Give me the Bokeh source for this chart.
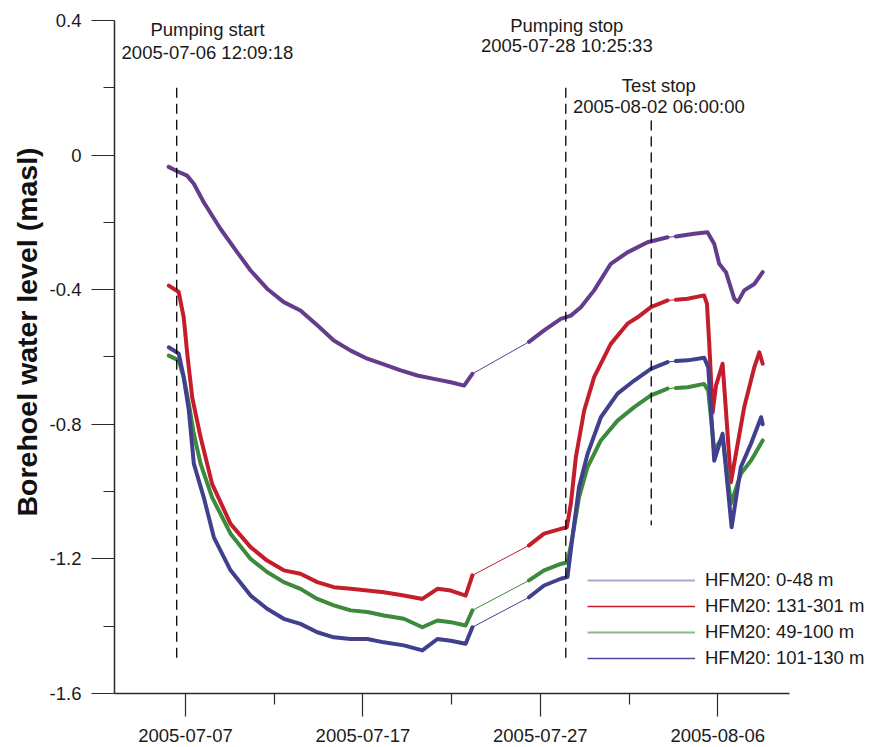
import numpy as np
import pandas as pd
from bokeh.plotting import figure
from bokeh.models import FixedTicker, Legend, LegendItem, Range1d, Label, Title
from bokeh.embed import file_html
from bokeh.resources import INLINE

# ---------------- data (time = day of July 2005, fractional; 32 = Aug 1) -------------
series_names = ["HFM20: 0-48 m", "HFM20: 131-301 m", "HFM20: 49-100 m", "HFM20: 101-130 m"]

t_purple = [6.05, 6.53, 7.09, 7.47, 8.03, 8.97, 9.92, 10.67, 11.6, 12.54, 13.48, 14.43, 15.36,
            16.31, 17.25, 18.18, 19.13, 20.07, 21.0, 21.95, 22.7, 23.17,
            26.36, 27.21, 28.15, 28.72, 29.28, 30.03, 30.97, 31.91, 33.04, 34.17,
            34.64, 35.67, 36.42, 36.8, 37.08, 37.46, 37.93, 38.12, 38.49, 39.06, 39.53]
v_purple = [-0.035, -0.048, -0.061, -0.085, -0.14, -0.219, -0.289, -0.343, -0.397, -0.437, -0.462,
            -0.506, -0.551, -0.581, -0.605, -0.622, -0.64, -0.655, -0.665, -0.675, -0.685, -0.65,
            -0.555, -0.521, -0.487, -0.477, -0.452, -0.402, -0.323, -0.289, -0.259, -0.244,
            -0.242, -0.234, -0.229, -0.264, -0.323, -0.348, -0.427, -0.437, -0.402, -0.383, -0.348]

t_red = [6.06, 6.62, 6.9, 7.1, 7.38, 7.85, 8.5, 9.54, 10.67, 11.6, 12.54, 13.48, 14.43, 15.36,
         16.31, 17.25, 18.18, 19.31, 20.35, 21.2, 21.95, 22.79, 23.17,
         26.36, 27.21, 28.15, 28.49, 28.72, 29.0, 29.47, 30.03, 30.97, 31.91, 32.48, 33.23, 34.17,
         34.64, 35.3, 36.23, 36.39, 36.52, 36.71, 36.9, 37.27, 37.46, 37.74, 38.12, 38.49, 39.06,
         39.34, 39.53]
v_red = [-0.388, -0.407, -0.482, -0.59, -0.72, -0.838, -0.977, -1.096, -1.165, -1.205, -1.234,
         -1.244, -1.269, -1.284, -1.289, -1.294, -1.299, -1.309, -1.319, -1.289, -1.294, -1.309,
         -1.249, -1.16, -1.125, -1.111, -1.106, -1.036, -0.898, -0.759, -0.66, -0.561, -0.501,
         -0.482, -0.452, -0.432, -0.43, -0.427, -0.417, -0.442, -0.561, -0.765, -0.685, -0.62,
         -0.759, -0.972, -0.858, -0.749, -0.63, -0.586, -0.62]

t_green = [6.06, 6.62, 6.9, 7.19, 7.47, 7.85, 8.5, 9.54, 10.67, 11.6, 12.54, 13.48, 14.43, 15.36,
           16.31, 17.25, 18.18, 19.31, 20.35, 21.2, 21.95, 22.79, 23.17,
           26.36, 27.21, 28.15, 28.53, 28.81, 29.18, 29.66, 30.41, 31.35, 32.29, 33.23, 34.17,
           34.64, 35.3, 36.23, 36.46, 36.8, 37.27, 37.74, 38.3, 38.87, 39.53]
v_green = [-0.596, -0.61, -0.66, -0.739, -0.828, -0.917, -1.017, -1.125, -1.2, -1.239, -1.269,
           -1.289, -1.319, -1.338, -1.353, -1.358, -1.368, -1.378, -1.403, -1.383, -1.388, -1.398,
           -1.353, -1.264, -1.234, -1.215, -1.21, -1.135, -1.017, -0.927, -0.848, -0.789, -0.749,
           -0.714, -0.694, -0.692, -0.69, -0.68, -0.7, -0.878, -0.838, -1.036, -0.947, -0.908,
           -0.848]

t_blue = [6.06, 6.62, 6.9, 7.19, 7.47, 8.03, 8.6, 9.54, 10.67, 11.6, 12.54, 13.48, 14.43, 15.36,
          16.31, 17.25, 18.18, 19.31, 20.35, 21.2, 21.95, 22.79, 23.17,
          26.36, 27.21, 28.15, 28.53, 28.81, 29.18, 29.66, 30.41, 31.35, 32.29, 33.23, 34.17,
          34.64, 35.3, 36.23, 36.46, 36.8, 37.27, 37.78, 38.3, 38.87, 39.44, 39.53]
v_blue = [-0.571, -0.59, -0.66, -0.759, -0.917, -1.017, -1.136, -1.234, -1.309, -1.348, -1.378,
          -1.393, -1.418, -1.433, -1.438, -1.438, -1.448, -1.457, -1.472, -1.438, -1.443, -1.452,
          -1.403, -1.314, -1.279, -1.259, -1.254, -1.135, -0.987, -0.888, -0.779, -0.709, -0.67,
          -0.635, -0.615, -0.612, -0.61, -0.602, -0.63, -0.908, -0.828, -1.106, -0.927, -0.858,
          -0.779, -0.8]

# gaps in logging (bridged by a thin line)
gaps = [(23.17, 26.36), (34.17, 34.64)]

event_names = ["Pumping start", "Pumping stop", "Test stop"]
event_times = ["2005-07-06 12:09:18", "2005-07-28 10:25:33", "2005-08-02 06:00:00"]

x_ticks = ["2005-07-07", "2005-07-17", "2005-07-27", "2005-08-06"]
x_minor = ["2005-07-12", "2005-07-22", "2005-08-01"]
y_ticks = [-1.6, -1.2, -0.8, -0.4, 0.0, 0.4]
y_tick_labels = ["-1.6", "-1.2", "-0.8", "-0.4", "0", "0.4"]
y_minor = [-1.4, -1.0, -0.6, -0.2, 0.2]
y_title = "Borehoel water  level (masl)"

# ---------------- helpers -------------
BASE = pd.Timestamp("2005-07-01")
EPOCH = pd.Timestamp("1970-01-01")


def day_to_ms(t):
    ts = BASE + pd.to_timedelta(np.asarray(t, dtype=float) - 1.0, unit="D")
    return np.asarray((ts - EPOCH) / pd.Timedelta(milliseconds=1), dtype=float)


def str_to_ms(s):
    return float((pd.Timestamp(s) - EPOCH) / pd.Timedelta(milliseconds=1))


def broken(t, v):
    xs, ys = [], []
    for i in range(len(t)):
        if i > 0 and any(abs(t[i - 1] - a) < 1e-9 and abs(t[i] - b) < 1e-9 for a, b in gaps):
            xs.append(np.nan)
            ys.append(np.nan)
        xs.append(t[i])
        ys.append(v[i])
    return day_to_ms(xs), np.asarray(ys, dtype=float)


FONT = "Liberation Sans"
FS = "18.5px"

x_axis_start, x_axis_end = "2005-07-03 00:00", "2005-08-10 01:00"

p = figure(width=869, height=747, x_axis_type="datetime",
           x_range=Range1d(str_to_ms(x_axis_start), str_to_ms("2005-08-14 13:12")),
           y_range=Range1d(-1.6, 0.4594),
           output_backend="svg", toolbar_location=None,
           min_border_left=114, min_border_right=0, min_border_top=0, min_border_bottom=54)
p.outline_line_color = None
p.xgrid.grid_line_color = None
p.ygrid.grid_line_color = None
p.background_fill_color = "white"
p.border_fill_color = "white"

colors = ["#643c8c", "#c41e2c", "#3c8a3c", "#40408f"]
legend_colors = ["#b7a2d2", "#c41e2c", "#86bd86", "#4d4d9e"]
legend_widths = [2.2, 1.5, 2.2, 1.5]
series = [(t_purple, v_purple), (t_red, v_red), (t_green, v_green), (t_blue, v_blue)]

for (t, v), c in zip(series, colors):
    p.line(day_to_ms(t), v, line_color=c, line_width=1.0)
    bx, by = broken(t, v)
    p.line(bx, by, line_color=c, line_width=4, line_join="round", line_cap="round")

# event dashed lines
ev_ms = [str_to_ms(s) for s in event_times]
p.segment(x0=ev_ms, y0=[0.2, 0.2, 0.103], x1=ev_ms, y1=[-1.5, -1.5, -1.1],
          line_color="black", line_width=1.3, line_dash="10 6")

# event labels
label_pos = [(8.24, 0.373, 0.305), (28.49, 0.385, 0.326), (33.68, 0.207, 0.144)]
for name, tstr, (tx, y1, y2) in zip(event_names, event_times, label_pos):
    xm = float(day_to_ms([tx])[0])
    for txt, yy in ((name, y1), (tstr, y2)):
        p.add_layout(Label(x=xm, y=yy, text=txt, text_align="center", text_baseline="middle",
                           text_font=FONT, text_font_size=FS, text_color="#1a1a1a"))

# legend with thin sample lines
items = []
for name, c, w in zip(series_names, legend_colors, legend_widths):
    r = p.line(x=[np.nan], y=[np.nan], line_color=c, line_width=w)
    items.append(LegendItem(label=name, renderers=[r]))
legend = Legend(items=items, location=(473, 24), glyph_width=108, glyph_height=20,
                label_height=20, label_standoff=10, spacing=4, padding=0, margin=0,
                border_line_alpha=0, background_fill_alpha=0,
                label_text_font=FONT, label_text_font_size=FS, label_text_color="#1a1a1a")
p.add_layout(legend)

# axes
xa = p.xaxis[0]
xa.ticker = FixedTicker(ticks=[str_to_ms(s) for s in x_ticks],
                        minor_ticks=[str_to_ms(s) for s in x_minor])
xa.major_label_overrides = {str_to_ms(s): s for s in x_ticks}
xa.bounds = (str_to_ms(x_axis_start), str_to_ms(x_axis_end))
ya = p.yaxis[0]
ya.ticker = FixedTicker(ticks=y_ticks, minor_ticks=y_minor)
ya.major_label_overrides = {k: s for k, s in zip(y_ticks, y_tick_labels)}
ya.bounds = (-1.6, 0.4)

for ax in (xa, ya):
    ax.axis_line_color = "#2a2a2a"
    ax.axis_line_width = 1.5
    ax.major_tick_line_color = "#2a2a2a"
    ax.minor_tick_line_color = "#2a2a2a"
    ax.major_tick_line_width = 1.2
    ax.minor_tick_line_width = 1.2
    ax.major_tick_in = 0
    ax.major_tick_out = 23
    ax.minor_tick_in = 0
    ax.minor_tick_out = 11
    ax.major_label_text_font = FONT
    ax.major_label_text_font_size = FS
    ax.major_label_text_color = "#1a1a1a"
    ax.major_label_standoff = 10
xa.major_label_standoff = 12

# vertical axis title placed as a side title so it can sit off-centre like the reference
yt = Title(text=y_title, align="right", offset=139, vertical_align="top", text_font=FONT,
           text_font_size="28.5px", text_font_style="bold", text_color="#111111", standoff=4)
p.add_layout(yt, "left")

open("out.html", "w").write(file_html(p, INLINE))
